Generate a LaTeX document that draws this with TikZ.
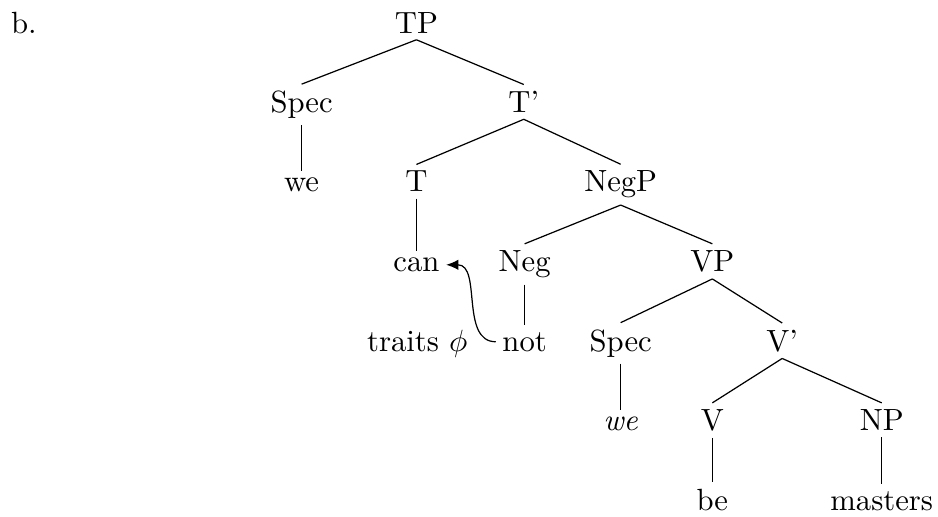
\documentclass[tikz,border=0pt]{standalone}
\usepackage{amsmath,amssymb}
\usepackage{tikz}
\usetikzlibrary{arrows.meta}

\begin{document}
\begin{tikzpicture}[lbl/.style={inner sep=2pt,anchor=base}]
  \useasboundingbox (0,0) rectangle (10.745,-5.911);
  \node[anchor=base west,inner sep=2pt] (ex) at (0.05,-0.378) {b.};
  \node[lbl] (TP) at (4.77,-0.378) {TP};
  \node[lbl] (SpecT) at (3.455,-1.289) {Spec};
  \node[lbl] (Tbar) at (6.00,-1.289) {T'};
  \node[lbl] (weT) at (3.455,-2.199) {we};
  \node[lbl] (T) at (4.77,-2.199) {T};
  \node[lbl] (NegP) at (7.11,-2.199) {NegP};
  \node[lbl] (can) at (4.77,-3.110) {can};
  \node[lbl] (Neg) at (6.01,-3.110) {Neg};
  \node[lbl] (VP) at (8.16,-3.110) {VP};
  \node[lbl] (traits) at (4.78,-4.021) {traits $\phi$};
  \node[lbl] (not) at (6.01,-4.021) {not};
  \node[lbl] (SpecV) at (7.11,-4.021) {Spec};
  \node[lbl] (Vbar) at (8.96,-4.021) {V'};
  \node[lbl] (weV) at (7.11,-4.932) {\textit{we}};
  \node[lbl] (V) at (8.16,-4.932) {V};
  \node[lbl] (NP) at (10.10,-4.932) {NP};
  \node[lbl] (be) at (8.16,-5.842) {be};
  \node[lbl] (masters) at (10.10,-5.842) {masters};
  \foreach \a/\b in {TP/SpecT,TP/Tbar,SpecT/weT,Tbar/T,Tbar/NegP,T/can,
    NegP/Neg,NegP/VP,Neg/not,VP/SpecV,VP/Vbar,SpecV/weV,Vbar/V,Vbar/NP,
    V/be,NP/masters}
    \draw (\a.south) -- (\b.north);
  \draw[-{Latex[length=4pt,width=3.4pt]}] (not.west) to[out=180,in=0] (can.east);
\end{tikzpicture}
\end{document}
